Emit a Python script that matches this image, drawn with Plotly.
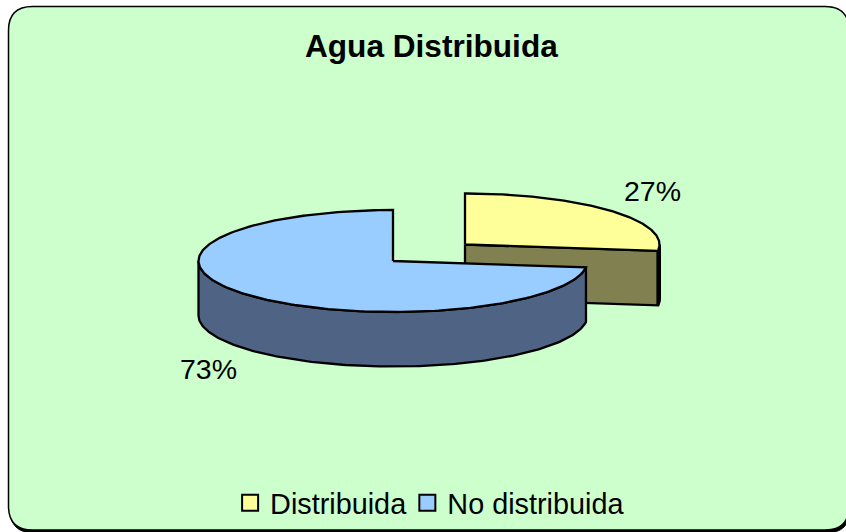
import numpy as np
import plotly.graph_objects as go

# Data
categories = ["Distribuida", "No distribuida"]
values = [27, 73]
title_text = "Agua Distribuida"

# Colours
TOP = {"Distribuida": "#FFFF99", "No distribuida": "#99CCFF"}
WALL = {"Distribuida": "#808050", "No distribuida": "#4F6484"}
BG = "#CCFFCC"
INK = "#000000"

# 3-D pie projection (pixel plane)
RX, RY, DEPTH = 194.5, 51, 54.5
CENTERS = {"Distribuida": (465, 244.5), "No distribuida": (393, 261)}


def rim(cat, a0, a1, n=160, drop=0):
    """Points on the ellipse, clockwise from 12 o'clock, angles in degrees."""
    cx, cy = CENTERS[cat]
    t = np.radians(np.linspace(a0, a1, n))
    return cx + RX * np.sin(t), cy - RY * np.cos(t) + drop


def poly(xs, ys, fill, width=2.3):
    return go.Scatter(x=xs, y=ys, mode="lines", fill="toself", fillcolor=fill,
                      line=dict(color=INK, width=width), hoverinfo="skip",
                      showlegend=False)


total = sum(values)
sweep = 360 * values[0] / total
fig = go.Figure()

# Distribuida slice: 0 -> sweep
c = categories[0]
cx, cy = CENTERS[c]
ex, ey = rim(c, sweep, sweep, 1)
fig.add_trace(poly([cx, ex[0], ex[0], cx, cx], [cy, ey[0], ey[0] + DEPTH, cy + DEPTH, cy], WALL[c]))
ox, oy = rim(c, 90, sweep, 20)
ox2, oy2 = rim(c, sweep, 90, 20, DEPTH)
fig.add_trace(poly(np.r_[ox, ox2, ox[0]], np.r_[oy, oy2, oy[0]], INK, width=3))
x, y = rim(c, 0, sweep)
fig.add_trace(poly(np.r_[cx, x, cx], np.r_[cy, y, cy], TOP[c]))

# No distribuida slice: sweep -> 360
c = categories[1]
cx, cy = CENTERS[c]
x, y = rim(c, sweep, 270)
x2, y2 = rim(c, 270, sweep, drop=DEPTH)
fig.add_trace(poly(np.r_[x, x2, x[0]], np.r_[y, y2, y[0]], WALL[c]))
x, y = rim(c, sweep, 360, 240)
fig.add_trace(poly(np.r_[cx, x, cx], np.r_[cy, y, cy], TOP[c]))

# Legend entries (one legend box each, so their spacing can match the reference)
for c, lg in zip(categories, ["legend", "legend2"]):
    fig.add_trace(go.Scatter(x=[None], y=[None], mode="markers", name=c, legend=lg,
                             marker=dict(symbol="square", size=19, color=TOP[c],
                                         line=dict(color=INK, width=2))))


def frame(x0, y0, x1, y1, r):
    return (f"M{x0},{y0 + r} Q{x0},{y0} {x0 + r},{y0} L{x1 - r},{y0} Q{x1},{y0} {x1},{y0 + r} "
            f"L{x1},{y1 - r} Q{x1},{y1} {x1 - r},{y1} L{x0 + r},{y1} Q{x0},{y1} {x0},{y1 - r} Z")


legend_common = dict(orientation="h", xanchor="left", y=1 - 503 / 532, yref="paper",
                     yanchor="middle", bgcolor="rgba(0,0,0,0)", font=dict(size=28.8))

fig.update_layout(
    width=846, height=532, margin=dict(l=0, r=0, t=0, b=0),
    paper_bgcolor="white", plot_bgcolor="rgba(0,0,0,0)",
    font=dict(family="Liberation Sans, Arial, sans-serif", color=INK),
    xaxis=dict(range=[0, 846], visible=False, fixedrange=True),
    yaxis=dict(range=[532, 0], visible=False, fixedrange=True),
    shapes=[
        dict(type="path", path=frame(10, 8, 850, 533, 24), fillcolor=INK,
             line=dict(color=INK, width=1), layer="below"),
        dict(type="path", path=frame(8.5, 6.5, 849, 530, 24), fillcolor=BG,
             line=dict(color=INK, width=1.5), layer="below"),
    ],
    annotations=[
        dict(x=431.5, y=46, text=f"<b>{title_text}</b>", showarrow=False,
             font=dict(size=31.6)),
        dict(x=652, y=191, text=f"{values[0]}%", showarrow=False, font=dict(size=28.5)),
        dict(x=208, y=369, text=f"{values[1]}%", showarrow=False, font=dict(size=28.5)),
    ],
    showlegend=True,
    legend=dict(x=0.272, **legend_common),
    legend2=dict(x=0.4815, **legend_common),
)
fig.write_html("out.html", config=dict(displayModeBar=False),
               post_script="document.body.style.margin='0';document.documentElement.style.overflow='hidden';")
